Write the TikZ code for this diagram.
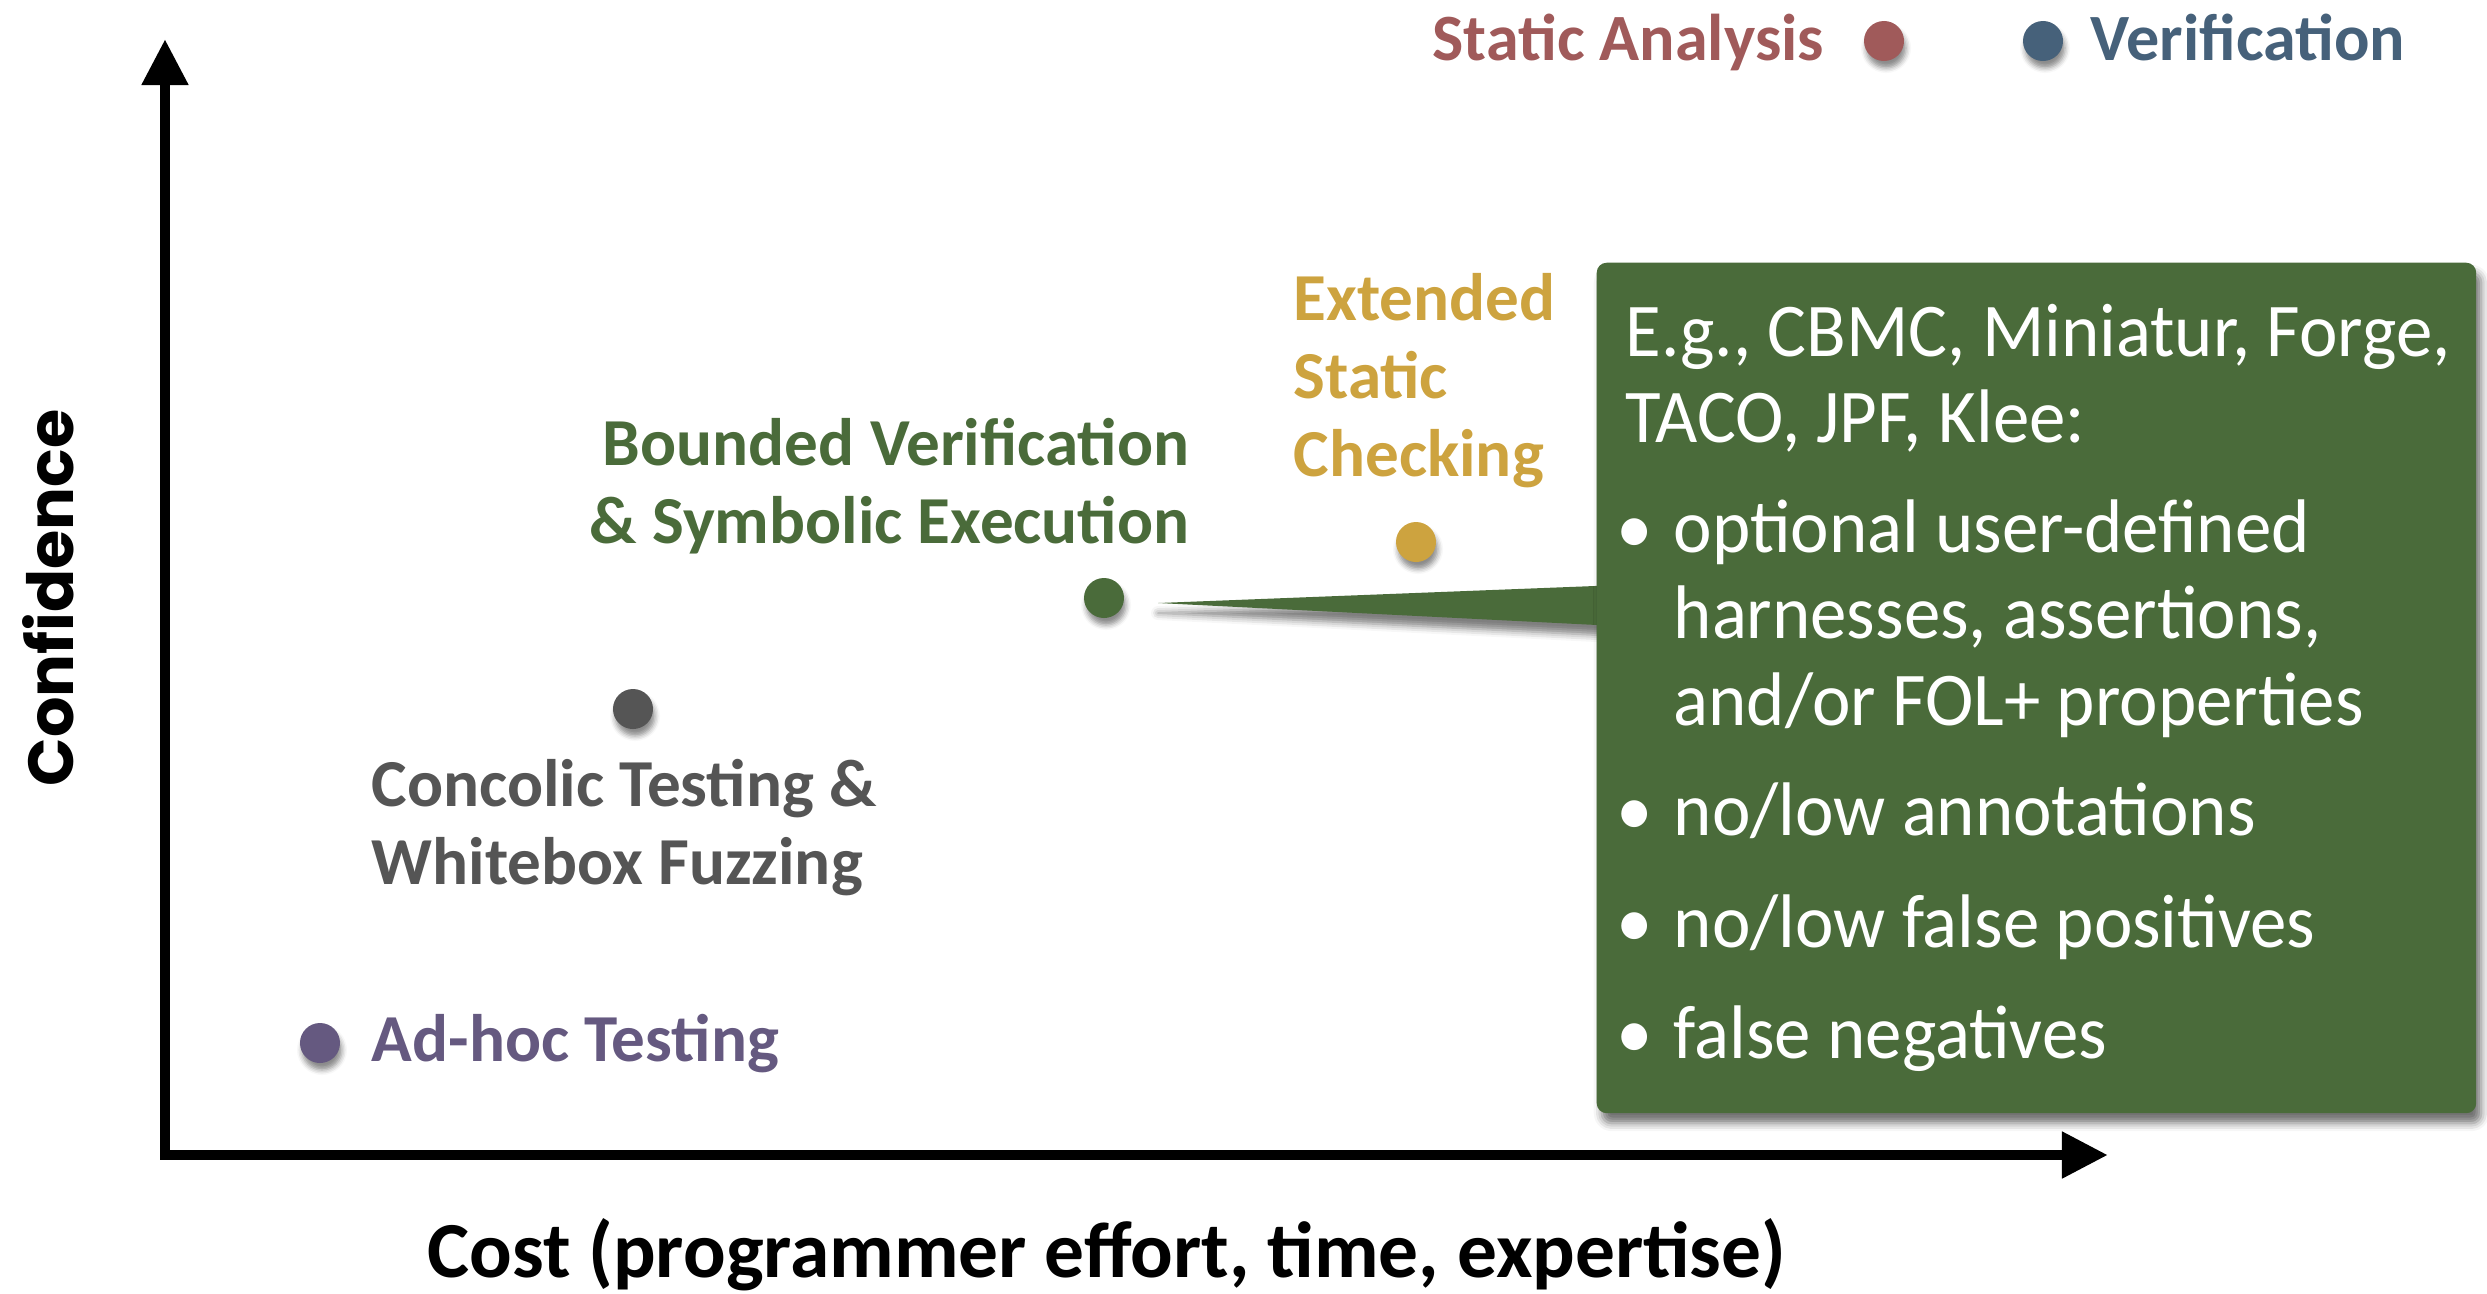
\documentclass[tikz,border=0pt]{standalone}
\usepackage{fontspec}
\setmainfont{Carlito}
\newfontfamily\bodyfont{Carlito}[FakeStretch=0.96]
\newfontfamily\roundfont{Poppins}
\usetikzlibrary{arrows.meta,shadows.blur,backgrounds,calc}

\definecolor{vgreen}{RGB}{74,107,58}
\definecolor{escgold}{RGB}{205,163,63}
\definecolor{concgrey}{RGB}{85,85,85}
\definecolor{adhocpurple}{RGB}{101,89,128}
\definecolor{sared}{RGB}{160,90,90}
\definecolor{verblue}{RGB}{70,97,122}

\newcommand{\pxfont}[2]{\fontsize{#1}{#2}\selectfont}

\begin{document}
\begin{tikzpicture}[x=0.01cm, y=-0.01cm,
  axisline/.style={line width=3.1pt, line join=miter,
    {Triangle[length=4.6mm,width=4.4mm]}-{Triangle[length=4.6mm,width=4.4mm]}},
  mdot/.style={circle, inner sep=0pt, minimum size=0.4cm, fill=#1,
    blur shadow={shadow xshift=0.02cm, shadow yshift=-0.07cm,
      shadow blur radius=0.05cm, shadow opacity=45}},
  lbl/.style={inner sep=0pt, align=left, font=\pxfont{19.1pt}{22.05pt}\bfseries},
  legendtxt/.style={inner sep=0pt, font=\pxfont{18.8pt}{22pt}\bfseries},
  calloutbox/.style={rectangle, inner sep=0pt, rounded corners=0.1cm, fill=vgreen,
    blur shadow={shadow xshift=0.05cm, shadow yshift=-0.1cm,
      shadow blur radius=0.08cm, shadow opacity=55}},
  boxtxt/.style={inner sep=0pt, text=white, align=left},
  bullet/.style={inner sep=0pt, text=white},
]
\useasboundingbox (0,0) rectangle (2487,1293);

% axes
\coordinate (ytop) at (165,39);
\coordinate (origin) at (165,1155);
\coordinate (xend) at (2108,1155);
\draw[axisline] (ytop) -- (origin) -- (xend);

\node[inner sep=0pt, rotate=90, anchor=base,
      font=\roundfont\pxfont{18.1pt}{22pt}\bfseries] (ylabel) at (73,598) {Confidence};
\node[inner sep=0pt, anchor=base, font=\pxfont{22.6pt}{26pt}\bfseries] (xlabel)
  at (1107,1277) {Cost (programmer effort, time, expertise)};

% legend
\node[legendtxt, text=sared, anchor=base west] (lgsa) at (1432,60) {Static Analysis};
\node[mdot=sared] (lgsadot) at (1884,41) {};
\node[mdot=verblue] (lgverdot) at (2043,41) {};
\node[legendtxt, text=verblue, anchor=base west] (lgver) at (2090,60) {Verification};

% techniques (multi-line labels are anchored on the baseline of their last line)
\node[mdot=adhocpurple] (adhocdot) at (320,1043) {};
\node[lbl, text=adhocpurple, anchor=base west] (adhoc) at (371,1061) {Ad-hoc Testing};

\node[mdot=concgrey] (concdot) at (633,709) {};
\node[lbl, text=concgrey, anchor=base west] (conc) at (371,884)
  {Concolic Testing \&\\Whitebox Fuzzing};

\node[mdot=vgreen] (bvdot) at (1104,598) {};
\node[lbl, text=vgreen, align=right, anchor=base east] (bv) at (1190,543)
  {Bounded Verification\\\& Symbolic Execution};

\node[mdot=escgold] (escdot) at (1416,542) {};
\node[lbl, text=escgold, anchor=base west] (esc) at (1293,476)
  {Extended\\Static\\Checking};

% callout box
\node[calloutbox, anchor=north west, minimum width=8.79cm, minimum height=8.5cm]
  (callout) at (1596,262) {};
\coordinate (ptip) at (1158,603);
\begin{pgfonlayer}{background}
  \fill[vgreen, blur shadow={shadow xshift=0cm, shadow yshift=-0.1cm,
      shadow blur radius=0.07cm, shadow opacity=50}]
    ($(callout.west)+(10,-102)$) -- ($(callout.west)+(0,-102)$) -- (ptip)
    -- ($(callout.west)+(0,-63)$) -- ($(callout.west)+(10,-63)$) -- cycle;
\end{pgfonlayer}

\begin{scope}[font=\bodyfont\pxfont{21.6pt}{24.2pt}]
  \node[boxtxt, anchor=base west] (cbhead) at (1625,442)
    {E.g., CBMC, Miniatur, Forge,\\TACO, JPF, Klee:};
  \node[bullet, anchor=base] (b1) at (1635,553) {\textbullet};
  \node[boxtxt, anchor=base west, font=\bodyfont\pxfont{21.6pt}{24.5pt}] (t1) at (1673,725)
    {optional user-defined\\harnesses, assertions,\\and/or FOL+ properties};
  \node[bullet, anchor=base] (b2) at (1635,835) {\textbullet};
  \node[boxtxt, anchor=base west] (t2) at (1673,835) {no/low annotations};
  \node[bullet, anchor=base] (b3) at (1635,947) {\textbullet};
  \node[boxtxt, anchor=base west] (t3) at (1673,947) {no/low false positives};
  \node[bullet, anchor=base] (b4) at (1635,1058) {\textbullet};
  \node[boxtxt, anchor=base west] (t4) at (1673,1058) {false negatives};
\end{scope}
\end{tikzpicture}
\end{document}
